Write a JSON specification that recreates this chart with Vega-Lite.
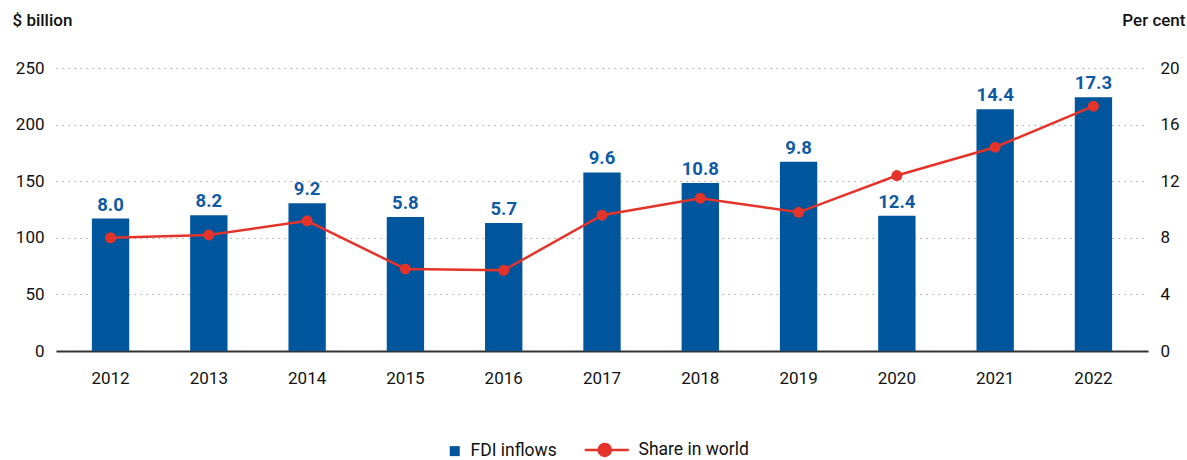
{
  "$schema": "https://vega.github.io/schema/vega-lite/v6.json",
  "width": 1092,
  "height": 283,
  "autosize": {"type": "none"},
  "padding": {"left": 56, "top": 68, "right": 39, "bottom": 109},
  "background": "white",
  "config": {
    "view": {"stroke": null},
    "font": "Roboto",
    "axis": {"labelFont": "Roboto", "titleFont": "Roboto", "labelColor": "#111", "titleColor": "#111"},
    "legend": {"labelFont": "Roboto"}
  },
  "data": {
    "values": [
      {"year": "2012", "fdi": 117, "share": 8.0},
      {"year": "2013", "fdi": 120, "share": 8.2},
      {"year": "2014", "fdi": 130.5, "share": 9.2},
      {"year": "2015", "fdi": 118.3, "share": 5.8},
      {"year": "2016", "fdi": 113, "share": 5.7},
      {"year": "2017", "fdi": 157.7, "share": 9.6},
      {"year": "2018", "fdi": 148.3, "share": 10.8},
      {"year": "2019", "fdi": 167.2, "share": 9.8},
      {"year": "2020", "fdi": 119.5, "share": 12.4},
      {"year": "2021", "fdi": 213.6, "share": 14.4},
      {"year": "2022", "fdi": 224.2, "share": 17.3}
    ]
  },
  "encoding": {
    "x": {
      "field": "year", "type": "ordinal",
      "scale": {"paddingInner": 0.62, "paddingOuter": 0.365},
      "axis": {"title": null, "labelAngle": 0, "ticks": false, "domain": true, "domainColor": "#333", "domainWidth": 2, "labelFontSize": 17, "labelPadding": 19, "grid": false}
    }
  },
  "layer": [
    {
      "layer": [
        {
          "mark": {"type": "bar", "color": "#00569c"},
          "encoding": {
            "y": {
              "field": "fdi", "type": "quantitative",
              "scale": {"domain": [0, 250], "nice": false, "zero": true},
              "axis": {
                "title": "$ billion", "titleAngle": 0, "titleAlign": "left", "titleBaseline": "middle",
                "titleX": -44, "titleY": -48, "titleFontSize": 17, "titleFontWeight": 500,
                "values": [0, 50, 100, 150, 200, 250], "labelFontSize": 17, "labelPadding": 12,
                "ticks": false, "domain": false, "grid": true, "gridColor": "#aaa", "gridDash": [1.5, 4.5], "gridWidth": 1
              }
            },
            "color": {
              "datum": "FDI inflows",
              "scale": {"domain": ["FDI inflows", "Share in world"], "range": ["#00569c", "#e4342a"]},
              "legend": {
                "title": null, "orient": "none", "legendX": 390, "legendY": 373, "direction": "horizontal",
                "labelFontSize": 17.5, "labelColor": "#111", "columnPadding": 22,
                "symbolSize": 100, "labelOffset": 7,
                "encode": {
                  "symbols": {
                    "update": {
                      "shape": {"signal": "datum.value === 'FDI inflows' ? 'square' : 'M-7.6,0H1.2M-4.8,0A1.2,1.2,0,1,1,-2.4,0A1.2,1.2,0,1,1,-4.8,0Z'"},
                      "size": {"value": 100},
                      "fill": {"signal": "datum.value === 'FDI inflows' ? '#00569c' : '#e4342a'"},
                      "stroke": {"signal": "datum.value === 'FDI inflows' ? '#00569c' : '#e4342a'"},
                      "strokeWidth": {"signal": "datum.value === 'FDI inflows' ? 0 : 2.5"},
                      "opacity": {"value": 1}
                    }
                  }
                }
              }
            }
          }
        },
        {
          "mark": {"type": "text", "baseline": "alphabetic", "dy": -8, "fontSize": 18.5, "fontWeight": "bold", "color": "#0f5ba3", "font": "Roboto"},
          "encoding": {
            "y": {"field": "fdi", "type": "quantitative", "scale": {"domain": [0, 250], "nice": false}},
            "text": {"field": "share", "type": "quantitative", "format": ".1f"}
          }
        }
      ]
    },
    {
      "mark": {"type": "line", "color": "#e4342a", "strokeWidth": 2.5, "point": {"filled": true, "size": 120, "color": "#e4342a", "opacity": 1}},
      "encoding": {
        "y": {
          "field": "share", "type": "quantitative",
          "scale": {"domain": [0, 20], "nice": false},
          "axis": {
            "orient": "right", "title": "Per cent", "titleAngle": 0, "titleAlign": "right", "titleBaseline": "middle",
            "titleX": 37, "titleY": -48, "titleFontSize": 17, "titleFontWeight": 500,
            "values": [0, 4, 8, 12, 16, 20], "labelFontSize": 17, "labelPadding": 12,
            "ticks": false, "domain": false, "grid": false
          }
        },
        "color": {"datum": "Share in world"}
      }
    }
  ],
  "resolve": {"scale": {"y": "independent"}}
}
